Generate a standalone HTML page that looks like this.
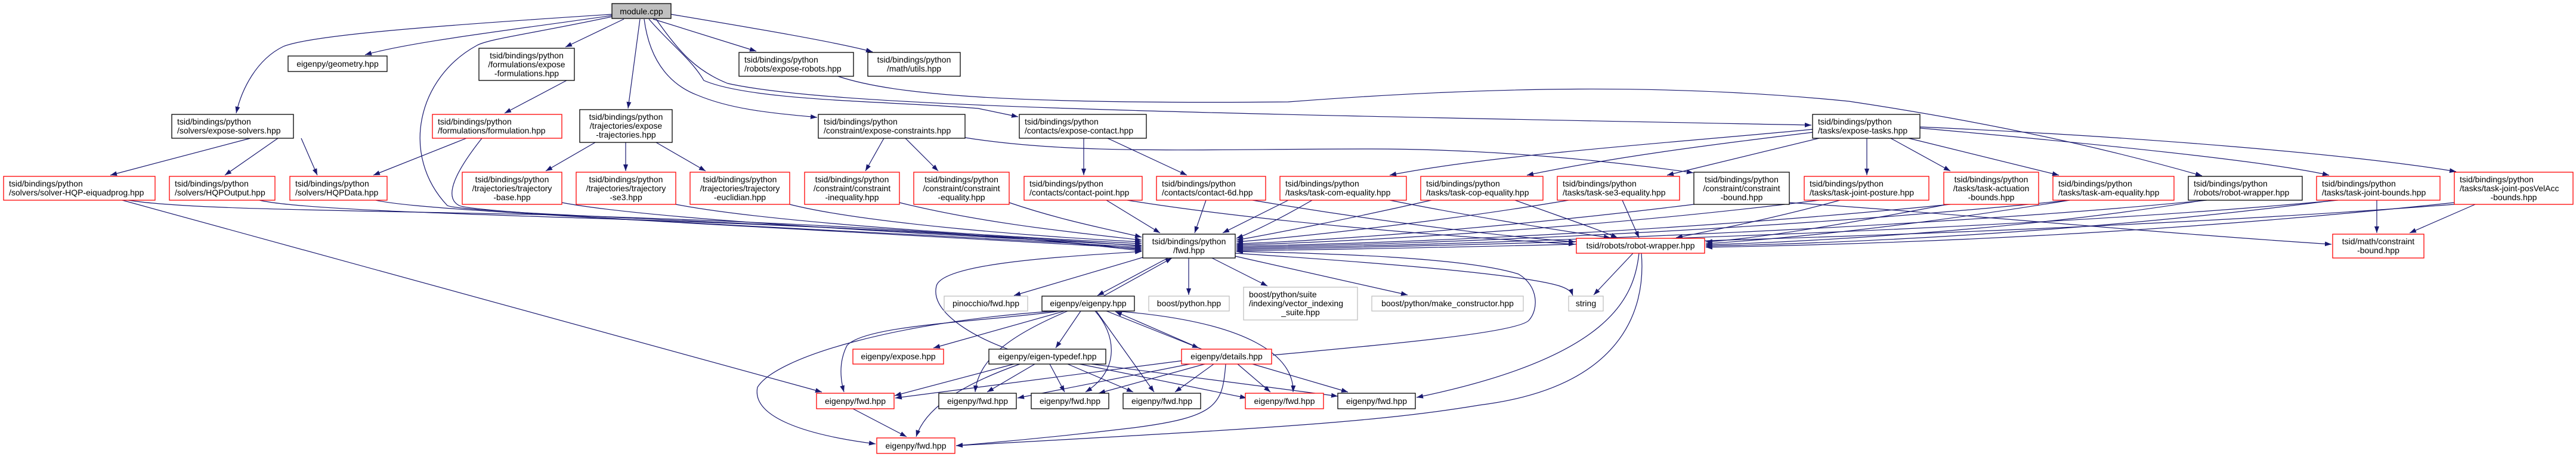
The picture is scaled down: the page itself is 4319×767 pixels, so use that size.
<!DOCTYPE html>
<html><head><meta charset="utf-8"><style>
html,body{margin:0;padding:0;background:#fff;}
svg{display:block;}
text{font-family:"Liberation Sans",sans-serif;font-size:14px;fill:#000;}
.e{fill:none;stroke:#191970;stroke-width:1.2;marker-end:url(#a);}
.b{fill:#fff;stroke:#000;stroke-width:1.3;}
.r{fill:#fff;stroke:#ff0000;stroke-width:1.3;}
.g{fill:#fff;stroke:#bfbfbf;stroke-width:1.3;}
</style></head><body>
<svg width="4319" height="767" viewBox="0 0 4319 767" xmlns="http://www.w3.org/2000/svg">
<defs><marker id="a" markerUnits="userSpaceOnUse" markerWidth="12" markerHeight="10" refX="11" refY="4" orient="auto"><path d="M0,0 L11,4 L0,8 z" fill="#191970"/></marker></defs>
<g>
<!-- module edges -->
<path class="e" d="M1026,24 C700,45 520,60 475,78 C430,100 405,150 396,190"/>
<path class="e" d="M1026,26 C860,50 690,70 612,92"/>
<path class="e" d="M1026,28 C900,55 820,65 800,76 C700,130 670,260 750,345 C780,360 1500,380 1914,413"/>
<path class="e" d="M1046,32 L948,79"/>
<path class="e" d="M1073,32 L1053,182"/>
<path class="e" d="M1080,32 C1090,110 1130,145 1170,160 C1230,185 1300,190 1370,197"/>
<path class="e" d="M1088,32 C1120,70 1160,100 1180,135 C1260,170 1500,170 1640,182 L1707,196"/>
<path class="e" d="M1095,32 L1268,86"/>
<path class="e" d="M1125,24 C1250,45 1400,70 1463,87"/>
<path class="e" d="M1100,32 C1140,90 1170,120 1220,140 C1400,180 2000,190 3037,210"/>
<path class="e" d="M1405,128 C1500,160 1700,175 2160,171 C2500,145 2800,140 3100,170 C3300,200 3500,240 3692,295"/>
<!-- solvers/formulations/trajectories/constraints/contact -->
<path class="e" d="M420,232 L185,294"/>
<path class="e" d="M466,232 L377,294"/>
<path class="e" d="M505,232 L532,294"/>
<path class="e" d="M950,135 L846,190"/>
<path class="e" d="M782,232 L626,294"/>
<path class="e" d="M808,232 C770,280 740,330 770,345 C800,360 1500,390 1914,415"/>
<path class="e" d="M998,239 L915,287"/>
<path class="e" d="M1049,239 L1049,287"/>
<path class="e" d="M1100,239 L1183,287"/>
<path class="e" d="M1482,232 L1451,287"/>
<path class="e" d="M1518,232 L1573,287"/>
<path class="e" d="M1618,231 C1800,260 2000,250 2300,250 C2500,250 2700,270 2839,290"/>
<path class="e" d="M1817,232 L1817,294"/>
<path class="e" d="M1857,232 L1990,294"/>
<!-- expose-tasks -->
<path class="e" d="M3040,217 C2800,240 2500,260 2330,294"/>
<path class="e" d="M3040,222 C2850,245 2700,265 2560,294"/>
<path class="e" d="M3050,232 L2795,294"/>
<path class="e" d="M3130,232 L3130,294"/>
<path class="e" d="M3170,232 L3270,287"/>
<path class="e" d="M3200,232 L3452,294"/>
<path class="e" d="M3219,215 C3500,240 3800,270 3905,294"/>
<path class="e" d="M3219,213 C3600,230 3950,260 4118,288"/>
<!-- into fwd -->
<path class="e" d="M215,336 C300,350 500,352 900,360 C1400,375 1700,395 1914,421"/>
<path class="e" d="M435,336 C500,352 800,360 1100,370 C1500,385 1750,400 1914,419"/>
<path class="e" d="M630,336 C700,352 1000,365 1914,417"/>
<path class="e" d="M942,340 C1100,370 1600,395 1914,412"/>
<path class="e" d="M1133,343 C1300,375 1700,398 1914,409"/>
<path class="e" d="M1324,343 C1450,375 1750,398 1914,406"/>
<path class="e" d="M1508,340 C1650,375 1800,390 1914,403"/>
<path class="e" d="M1692,340 C1780,370 1860,385 1914,398"/>
<path class="e" d="M1855,336 L1945,391"/>
<path class="e" d="M2022,336 L2003,391"/>
<path class="e" d="M2160,336 L2050,391"/>
<path class="e" d="M2200,336 C2150,365 2100,390 2073,400"/>
<path class="e" d="M2400,336 C2250,370 2120,395 2073,403"/>
<path class="e" d="M2630,336 C2400,375 2150,400 2073,406"/>
<path class="e" d="M2840,343 C2500,385 2200,405 2073,409"/>
<path class="e" d="M3050,336 C2700,380 2300,405 2073,411"/>
<path class="e" d="M3270,343 C2800,390 2300,410 2073,413"/>
<path class="e" d="M3470,336 C3000,385 2400,410 2073,415"/>
<path class="e" d="M3700,336 C3200,385 2500,410 2073,417"/>
<path class="e" d="M3920,336 C3400,385 2600,410 2073,419"/>
<path class="e" d="M4115,343 C3500,390 2700,412 2073,421"/>
<!-- into robot-wrapper -->
<path class="e" d="M1890,336 C2100,370 2400,395 2641,410"/>
<path class="e" d="M2100,336 C2300,370 2500,395 2641,406"/>
<path class="e" d="M2330,336 C2450,360 2600,385 2700,399"/>
<path class="e" d="M2540,336 C2620,365 2680,385 2712,399"/>
<path class="e" d="M2720,336 L2748,399"/>
<path class="e" d="M3085,336 C2980,365 2880,385 2810,399"/>
<path class="e" d="M3265,343 C3100,375 2950,400 2860,406"/>
<path class="e" d="M3470,336 C3200,380 3000,400 2860,409"/>
<path class="e" d="M3695,336 C3400,385 3050,405 2860,411"/>
<path class="e" d="M3915,336 C3500,390 3100,408 2860,413"/>
<path class="e" d="M4115,340 C3600,395 3150,410 2860,415"/>
<!-- into math constraint-bound -->
<path class="e" d="M3000,340 C3300,360 3600,390 3909,410"/>
<path class="e" d="M3985,336 L3985,391"/>
<path class="e" d="M4150,343 L4040,391"/>
<!-- lower -->
<path class="e" d="M1916,432 L1700,496"/>
<path class="e" d="M1960,432 L1840,496"/>
<path class="e" d="M1850,497 L1965,433"/>
<path class="e" d="M1993,432 L1993,495"/>
<path class="e" d="M2030,432 L2125,480"/>
<path class="e" d="M2071,430 L2360,495"/>
<path class="e" d="M2071,425 C2300,440 2550,460 2615,480 C2630,485 2635,490 2637,496"/>
<path class="e" d="M1690,586 C1620,560 1560,520 1570,480 C1580,440 1800,430 1914,422"/>
<path class="e" d="M2134,596 C2300,580 2540,560 2563,538 C2580,520 2580,480 2546,460 C2450,430 2200,425 2073,422"/>
<path class="e" d="M2738,425 L2672,495"/>
<path class="e" d="M2748,425 C2740,500 2700,600 2375,667"/>
<path class="e" d="M2752,425 C2760,520 2720,650 2480,680 C2300,710 2100,720 1603,748"/>
<path class="e" d="M1785,522 L1565,584"/>
<path class="e" d="M1812,522 L1770,584"/>
<path class="e" d="M1855,522 L2010,584"/>
<path class="e" d="M2015,586 L1870,523"/>
<path class="e" d="M1778,522 C1650,540 1450,545 1420,580 C1405,610 1410,640 1415,658"/>
<path class="e" d="M1790,522 C1700,560 1640,600 1635,658"/>
<path class="e" d="M1836,522 C1870,560 1880,620 1820,658"/>
<path class="e" d="M1838,522 L1935,658"/>
<path class="e" d="M1870,522 C2100,540 2170,600 2168,658"/>
<path class="e" d="M1770,522 C1500,540 1300,600 1270,650 C1260,700 1350,730 1468,745"/>
<path class="e" d="M1700,611 L1500,664"/>
<path class="e" d="M1735,611 L1655,658"/>
<path class="e" d="M1760,611 L1785,658"/>
<path class="e" d="M1790,611 L1900,658"/>
<path class="e" d="M1810,611 L2090,668"/>
<path class="e" d="M1830,611 L2243,665"/>
<path class="e" d="M1710,611 C1600,650 1550,690 1536,733"/>
<path class="e" d="M1985,605 L1501,668"/>
<path class="e" d="M1995,611 L1706,668"/>
<path class="e" d="M2020,611 L1842,660"/>
<path class="e" d="M2035,611 L1970,658"/>
<path class="e" d="M2075,611 L2130,658"/>
<path class="e" d="M2100,611 L2260,658"/>
<path class="e" d="M2055,611 C2050,680 2040,700 1900,718 C1800,730 1700,740 1603,748"/>
<path class="e" d="M1430,686 L1520,733"/>
<path class="e" d="M205,336 L1378,658"/>
</g>
<g>
<rect x="1026" y="6" width="99" height="25" fill="#bfbfbf" stroke="#000" stroke-width="1.3"/><text x="1075.5" y="24" text-anchor="middle">module.cpp</text>
<rect class="b" x="483" y="94" width="166" height="26"/><text x="566" y="112" text-anchor="middle">eigenpy/geometry.hpp</text>
<rect class="b" x="803" y="81" width="160" height="54"/><text x="883" y="98" text-anchor="middle">tsid/bindings/python</text><text x="883" y="113" text-anchor="middle">/formulations/expose</text><text x="883" y="128" text-anchor="middle">-formulations.hpp</text>
<rect class="b" x="288" y="192" width="204" height="40"/><text x="297" y="209">tsid/bindings/python</text><text x="297" y="224">/solvers/expose-solvers.hpp</text>
<rect class="r" x="725" y="192" width="217" height="40"/><text x="734" y="209">tsid/bindings/python</text><text x="734" y="224">/formulations/formulation.hpp</text>
<rect class="b" x="972" y="184" width="155" height="55"/><text x="1049.5" y="201" text-anchor="middle">tsid/bindings/python</text><text x="1049.5" y="216" text-anchor="middle">/trajectories/expose</text><text x="1049.5" y="231" text-anchor="middle">-trajectories.hpp</text>
<rect class="r" x="6" y="296" width="254" height="40"/><text x="15" y="313">tsid/bindings/python</text><text x="15" y="328">/solvers/solver-HQP-eiquadprog.hpp</text>
<rect class="r" x="284" y="296" width="177" height="40"/><text x="293" y="313">tsid/bindings/python</text><text x="293" y="328">/solvers/HQPOutput.hpp</text>
<rect class="r" x="486" y="296" width="163" height="40"/><text x="495" y="313">tsid/bindings/python</text><text x="495" y="328">/solvers/HQPData.hpp</text>
<rect class="r" x="775" y="289" width="167" height="54"/><text x="858.5" y="306" text-anchor="middle">tsid/bindings/python</text><text x="858.5" y="321" text-anchor="middle">/trajectories/trajectory</text><text x="858.5" y="336" text-anchor="middle">-base.hpp</text>
<rect class="r" x="966" y="289" width="167" height="54"/><text x="1049.5" y="306" text-anchor="middle">tsid/bindings/python</text><text x="1049.5" y="321" text-anchor="middle">/trajectories/trajectory</text><text x="1049.5" y="336" text-anchor="middle">-se3.hpp</text>
<rect class="r" x="1157" y="289" width="167" height="54"/><text x="1240.5" y="306" text-anchor="middle">tsid/bindings/python</text><text x="1240.5" y="321" text-anchor="middle">/trajectories/trajectory</text><text x="1240.5" y="336" text-anchor="middle">-euclidian.hpp</text>
<rect class="b" x="1239" y="88" width="192" height="40"/><text x="1248" y="105">tsid/bindings/python</text><text x="1248" y="120">/robots/expose-robots.hpp</text>
<rect class="b" x="1455" y="88" width="155" height="40"/><text x="1532.5" y="105" text-anchor="middle">tsid/bindings/python</text><text x="1532.5" y="120" text-anchor="middle">/math/utils.hpp</text>
<rect class="b" x="1372" y="192" width="246" height="40"/><text x="1381" y="209">tsid/bindings/python</text><text x="1381" y="224">/constraint/expose-constraints.hpp</text>
<rect class="b" x="1709" y="192" width="213" height="40"/><text x="1718" y="209">tsid/bindings/python</text><text x="1718" y="224">/contacts/expose-contact.hpp</text>
<rect class="r" x="1349" y="289" width="159" height="54"/><text x="1428.5" y="306" text-anchor="middle">tsid/bindings/python</text><text x="1428.5" y="321" text-anchor="middle">/constraint/constraint</text><text x="1428.5" y="336" text-anchor="middle">-inequality.hpp</text>
<rect class="r" x="1532" y="289" width="160" height="54"/><text x="1612" y="306" text-anchor="middle">tsid/bindings/python</text><text x="1612" y="321" text-anchor="middle">/constraint/constraint</text><text x="1612" y="336" text-anchor="middle">-equality.hpp</text>
<rect class="r" x="1717" y="296" width="198" height="40"/><text x="1726" y="313">tsid/bindings/python</text><text x="1726" y="328">/contacts/contact-point.hpp</text>
<rect class="r" x="1939" y="296" width="183" height="40"/><text x="1948" y="313">tsid/bindings/python</text><text x="1948" y="328">/contacts/contact-6d.hpp</text>
<rect class="r" x="2146" y="296" width="212" height="40"/><text x="2155" y="313">tsid/bindings/python</text><text x="2155" y="328">/tasks/task-com-equality.hpp</text>
<rect class="r" x="2382" y="296" width="205" height="40"/><text x="2391" y="313">tsid/bindings/python</text><text x="2391" y="328">/tasks/task-cop-equality.hpp</text>
<rect class="r" x="2611" y="296" width="205" height="40"/><text x="2620" y="313">tsid/bindings/python</text><text x="2620" y="328">/tasks/task-se3-equality.hpp</text>
<rect class="b" x="2840" y="289" width="160" height="54"/><text x="2920" y="306" text-anchor="middle">tsid/bindings/python</text><text x="2920" y="321" text-anchor="middle">/constraint/constraint</text><text x="2920" y="336" text-anchor="middle">-bound.hpp</text>
<rect class="r" x="3025" y="296" width="209" height="40"/><text x="3034" y="313">tsid/bindings/python</text><text x="3034" y="328">/tasks/task-joint-posture.hpp</text>
<rect class="b" x="3039" y="192" width="180" height="40"/><text x="3048" y="209">tsid/bindings/python</text><text x="3048" y="224">/tasks/expose-tasks.hpp</text>
<rect class="r" x="3259" y="289" width="159" height="54"/><text x="3338.5" y="306" text-anchor="middle">tsid/bindings/python</text><text x="3338.5" y="321" text-anchor="middle">/tasks/task-actuation</text><text x="3338.5" y="336" text-anchor="middle">-bounds.hpp</text>
<rect class="r" x="3442" y="296" width="203" height="40"/><text x="3451" y="313">tsid/bindings/python</text><text x="3451" y="328">/tasks/task-am-equality.hpp</text>
<rect class="b" x="3669" y="296" width="191" height="40"/><text x="3678" y="313">tsid/bindings/python</text><text x="3678" y="328">/robots/robot-wrapper.hpp</text>
<rect class="r" x="3884" y="296" width="207" height="40"/><text x="3893" y="313">tsid/bindings/python</text><text x="3893" y="328">/tasks/task-joint-bounds.hpp</text>
<rect class="r" x="4115" y="289" width="199" height="54"/><text x="4124" y="306">tsid/bindings/python</text><text x="4124" y="321">/tasks/task-joint-posVelAcc</text><text x="4214.5" y="336" text-anchor="middle">-bounds.hpp</text>
<rect class="r" x="3911" y="393" width="153" height="40"/><text x="3987.5" y="410" text-anchor="middle">tsid/math/constraint</text><text x="3987.5" y="425" text-anchor="middle">-bound.hpp</text>
<rect class="b" x="1916" y="393" width="155" height="40"/><text x="1993.5" y="410" text-anchor="middle">tsid/bindings/python</text><text x="1993.5" y="425" text-anchor="middle">/fwd.hpp</text>
<rect class="r" x="2643" y="400" width="215" height="25"/><text x="2750.5" y="417" text-anchor="middle">tsid/robots/robot-wrapper.hpp</text>
<rect class="g" x="1583" y="497" width="140" height="25"/><text x="1653" y="514" text-anchor="middle">pinocchio/fwd.hpp</text>
<rect class="b" x="1747" y="497" width="155" height="25"/><text x="1824.5" y="514" text-anchor="middle">eigenpy/eigenpy.hpp</text>
<rect class="g" x="1926" y="497" width="135" height="25"/><text x="1993.5" y="514" text-anchor="middle">boost/python.hpp</text>
<rect class="g" x="2085" y="482" width="191" height="55"/><text x="2094" y="499">boost/python/suite</text><text x="2094" y="514">/indexing/vector_indexing</text><text x="2180.5" y="529" text-anchor="middle">_suite.hpp</text>
<rect class="g" x="2300" y="497" width="254" height="25"/><text x="2427" y="514" text-anchor="middle">boost/python/make_constructor.hpp</text>
<rect class="g" x="2630" y="497" width="58" height="25"/><text x="2659" y="514" text-anchor="middle">string</text>
<rect class="r" x="1430" y="586" width="152" height="25"/><text x="1506" y="603" text-anchor="middle">eigenpy/expose.hpp</text>
<rect class="b" x="1658" y="586" width="196" height="25"/><text x="1756" y="603" text-anchor="middle">eigenpy/eigen-typedef.hpp</text>
<rect class="r" x="1981" y="586" width="151" height="25"/><text x="2056.5" y="603" text-anchor="middle">eigenpy/details.hpp</text>
<rect class="r" x="1369" y="660" width="130" height="26"/><text x="1434" y="678" text-anchor="middle">eigenpy/fwd.hpp</text>
<rect class="b" x="1574" y="660" width="130" height="26"/><text x="1639" y="678" text-anchor="middle">eigenpy/fwd.hpp</text>
<rect class="b" x="1729" y="660" width="130" height="26"/><text x="1794" y="678" text-anchor="middle">eigenpy/fwd.hpp</text>
<rect class="b" x="1883" y="660" width="130" height="26"/><text x="1948" y="678" text-anchor="middle">eigenpy/fwd.hpp</text>
<rect class="r" x="2088" y="660" width="131" height="26"/><text x="2153.5" y="678" text-anchor="middle">eigenpy/fwd.hpp</text>
<rect class="b" x="2243" y="660" width="130" height="26"/><text x="2308" y="678" text-anchor="middle">eigenpy/fwd.hpp</text>
<rect class="r" x="1470" y="735" width="131" height="26"/><text x="1535.5" y="753" text-anchor="middle">eigenpy/fwd.hpp</text>
</g>
</svg>
</body></html>
